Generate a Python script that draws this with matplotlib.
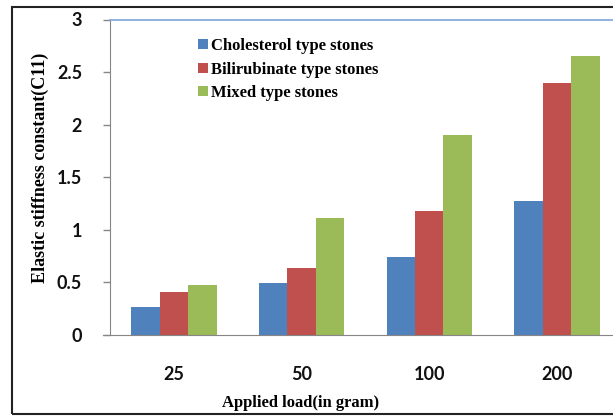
import numpy as np
import matplotlib
matplotlib.use('Agg')
import matplotlib.pyplot as plt
from matplotlib.patches import Rectangle

# data
loads = ['25', '50', '100', '200']
cholesterol = [0.27, 0.49, 0.74, 1.27]
bilirubinate = [0.405, 0.64, 1.18, 2.40]
mixed = [0.48, 1.11, 1.90, 2.65]
series_names = ['Cholesterol type stones', 'Bilirubinate type stones', 'Mixed type stones']
colors = ['#4F81BD', '#C0504D', '#9BBB59']

W, H = 613, 417
fig = plt.figure(figsize=(W / 100, H / 100), dpi=100)

# outer chart border (cut off at the right like the reference)
fig.patches.append(Rectangle((12 / W, (H - 414) / H), 1.0, 407 / H, transform=fig.transFigure,
                             fill=False, edgecolor='#222222', linewidth=1.5))

# plot area: left edge x=110px, zero line y=335px, top y=19.5px
step = 127.7  # px per category
ax = fig.add_axes([110 / W, (H - 335) / H, (W - 110) / W, 315.5 / H])

x = np.arange(len(loads))
bw = 0.223
for i, (vals, name, c) in enumerate(zip([cholesterol, bilirubinate, mixed], series_names, colors)):
    ax.bar(x + (i - 1) * bw, vals, width=bw, color=c, label=name, zorder=2)

ax.set_ylim(0, 3)
ax.set_xlim(-0.5, -0.5 + (W - 110) / step)
ax.set_yticks([0, 0.5, 1, 1.5, 2, 2.5, 3])
ax.set_yticklabels(['0', '0.5', '1', '1.5', '2', '2.5', '3'])
ax.set_xticks(x)
ax.set_xticklabels(loads)

for lab in ax.get_yticklabels() + ax.get_xticklabels():
    lab.set_fontfamily('Lato')
    lab.set_fontweight('bold')
    lab.set_fontsize(13)
    lab.set_color('#111111')

ax.tick_params(axis='y', length=5, width=1, color='#868686', pad=15, direction='out')
ax.tick_params(axis='x', length=0, pad=22)

ax.spines['right'].set_visible(False)
ax.spines['top'].set_color('#7ea6d8')
ax.spines['top'].set_linewidth(1.2)
ax.spines['left'].set_color('#868686')
ax.spines['bottom'].set_color('#868686')
ax.spines['bottom'].set_bounds(-0.5 - 7 / step, ax.get_xlim()[1])

ax.legend(loc='upper left', bbox_to_anchor=(190 / W, (H - 30) / H),
          bbox_transform=fig.transFigure, frameon=False, borderpad=0,
          handlelength=0.55, handleheight=0.55, handletextpad=0.2,
          labelspacing=0.45,
          prop=dict(family='Liberation Serif', weight='bold', size=12))

fig.text(40 / W, (H - 168) / H, 'Elastic stiffness constant(C11)', rotation=90,
         ha='center', va='center', family='Liberation Serif', weight='bold', size=13)
fig.text(301 / W, (H - 403) / H, 'Applied load(in gram)', ha='center', va='center',
         family='Liberation Serif', weight='bold', size=12)

fig.savefig('out.png', dpi=100)
